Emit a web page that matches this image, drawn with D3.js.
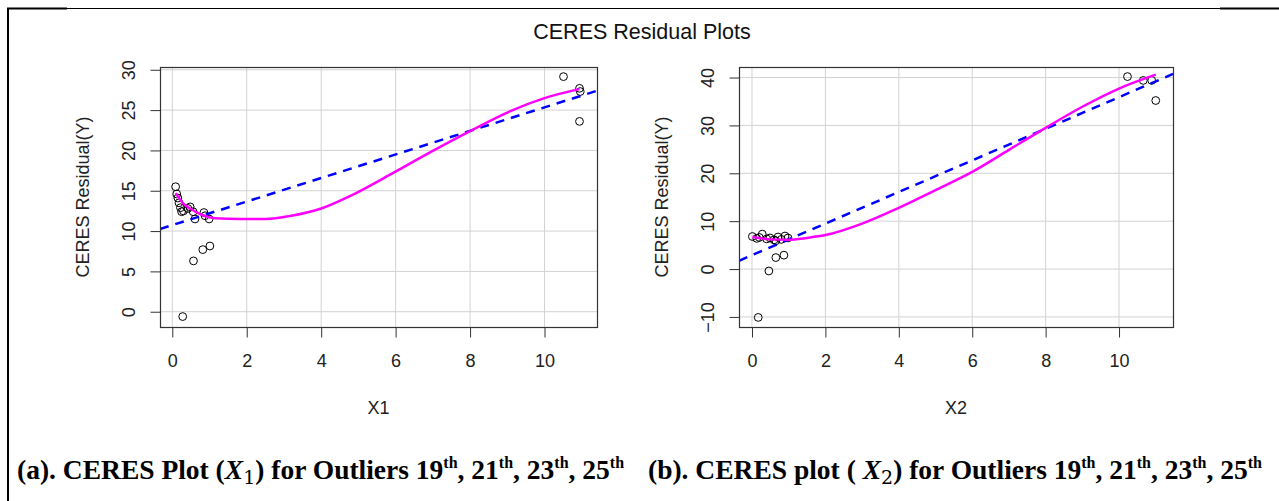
<!DOCTYPE html>
<html><head><meta charset="utf-8">
<script src="https://cdn.jsdelivr.net/npm/d3@7"></script>
<style>body{margin:0;background:#fff}svg{display:block}</style>
</head><body>
<script>
// ---- data ----
const title = "CERES Residual Plots";
const yLabel = "CERES Residual(Y)";
const xLabels = ["X1", "X2"];

// panel (a): X1
const x1Points = [0.09,0.12,0.15,0.18,0.22,0.25,0.30,0.42,0.48,0.56,0.61,0.85,0.88,0.99,0.57,0.82,1.01,0.28,10.51,10.94,10.96,10.94];
const y1Points = [15.5,14.6,14.1,13.5,12.9,12.4,12.5,12.8,13.0,12.4,11.5,12.3,11.9,11.5,6.3,7.7,8.15,-0.6,29.15,27.7,27.3,23.6];
const fit1 = [10.74, 1.46]; // intercept, slope (dashed blue)
const smooth1X = [0.09,0.3,0.48,0.75,1.15,1.8,2.5,3.2,4.0,4.8,5.85,6.9,8.0,9.1,10.15,10.94];
const smooth1Y = [14.7,13.4,12.8,12.1,11.6,11.5,11.5,11.9,12.8,14.4,17.0,19.7,22.4,24.9,26.7,27.6];
const xTicks1 = [0,2,4,6,8,10];
const yTicks1 = [0,5,10,15,20,25,30];

// panel (b): X2
const x2Points = [0.01,0.13,0.28,0.20,0.40,0.49,0.60,0.65,0.71,0.80,0.90,0.98,0.65,0.87,0.46,0.17,10.23,10.66,10.89,11.0];
const y2Points = [6.8,6.4,7.3,6.6,6.3,6.5,6.1,5.9,6.7,6.2,6.9,6.5,2.4,2.9,-0.4,-10.1,40.2,39.4,39.4,35.2];
const fit2 = [2.9, 3.3];
const smooth2X = [0.01,0.5,1.0,1.5,2.0,3.0,4.0,5.0,6.0,7.0,8.0,9.0,10.0,11.0];
const smooth2Y = [6.7,6.2,6.1,6.5,7.1,9.5,12.8,16.5,20.3,24.9,29.5,33.9,37.7,40.6];
const xTicks2 = [0,2,4,6,8,10];
const yTicks2 = [-10,0,10,20,30,40];

const captionA = ["(a). CERES Plot (", "X", "1", ") for Outliers "];
const captionB = ["(b). CERES plot ( ", "X", "2", ") for Outliers "];
const outliers = ["19", "21", "23", "25"];

// ---- drawing ----
const W = 1279, H = 501;
const svg = d3.select("body").append("svg").attr("width", W).attr("height", H);
const SANS = "Liberation Sans, Arial, sans-serif";

// frame lines
svg.append("line").attr("x1",7).attr("x2",W).attr("y1",8.5).attr("y2",8.5).attr("stroke","#000").attr("stroke-width",1);
svg.append("line").attr("x1",7).attr("x2",67).attr("y1",8.5).attr("y2",8.5).attr("stroke","#000").attr("stroke-width",2);
svg.append("line").attr("x1",1220).attr("x2",W).attr("y1",8.5).attr("y2",8.5).attr("stroke","#000").attr("stroke-width",2);
svg.append("line").attr("x1",8).attr("x2",8).attr("y1",8).attr("y2",H).attr("stroke","#000").attr("stroke-width",2);

svg.append("text").attr("x", 642).attr("y", 39).attr("text-anchor","middle")
  .attr("font-family",SANS).attr("font-size",21.5).attr("fill","#111").text(title);

const pTop = 67, pBottom = 327;

function panel(id, left, right, xDom, yDom, xs, ys, fit, sx, sy, xt, yt, xl) {
  const x = d3.scaleLinear().domain(xDom).range([left, right]);
  const y = d3.scaleLinear().domain(yDom).range([pBottom, pTop]);
  const g = svg.append("g");
  g.append("clipPath").attr("id", "clip" + id).append("rect")
    .attr("x", left).attr("y", pTop).attr("width", right - left).attr("height", pBottom - pTop);
  // grid
  g.selectAll(".vg").data(xt).join("line").attr("class","vg").attr("x1", d => x(d)).attr("x2", d => x(d))
    .attr("y1", pTop).attr("y2", pBottom).attr("stroke", "#d3d3d3").attr("stroke-width", 1);
  g.selectAll(".hg").data(yt).join("line").attr("class","hg").attr("y1", d => y(d)).attr("y2", d => y(d))
    .attr("x1", left).attr("x2", right).attr("stroke", "#d3d3d3").attr("stroke-width", 1);
  // points
  g.selectAll("circle").data(xs.map((v, i) => [v, ys[i]])).join("circle")
    .attr("cx", d => x(d[0])).attr("cy", d => y(d[1])).attr("r", 3.9)
    .attr("fill", "none").attr("stroke", "#000").attr("stroke-width", 1);
  // fit line
  const cg = g.append("g").attr("clip-path", `url(#clip${id})`);
  cg.append("line").attr("x1", x(xDom[0])).attr("y1", y(fit[0] + fit[1] * xDom[0]))
    .attr("x2", x(xDom[1])).attr("y2", y(fit[0] + fit[1] * xDom[1]))
    .attr("stroke", "#0000ff").attr("stroke-width", 2.5).attr("stroke-dasharray", "9,7");
  // smooth
  cg.append("path").datum(sx.map((v, i) => [v, sy[i]]))
    .attr("d", d3.line().x(d => x(d[0])).y(d => y(d[1])).curve(d3.curveMonotoneX))
    .attr("fill", "none").attr("stroke", "#ff00ff").attr("stroke-width", 2.5);
  // box
  g.append("rect").attr("x", left + 0.5).attr("y", pTop + 0.5).attr("width", right - left)
    .attr("height", pBottom - pTop).attr("fill", "none").attr("stroke", "#333").attr("stroke-width", 1.2);
  // axes
  const xa = g.append("g").attr("transform", `translate(0,${pBottom + 0.5})`)
    .call(d3.axisBottom(x).tickValues(xt).tickSize(10).tickPadding(17).tickFormat(d3.format("d")));
  const ya = g.append("g").attr("transform", `translate(${left + 0.5},0)`)
    .call(d3.axisLeft(y).tickValues(yt).tickSize(10).tickFormat(d3.format("d")));
  [xa, ya].forEach(a => {
    a.select(".domain").remove();
    a.selectAll("line").attr("stroke", "#333");
    a.selectAll("text").attr("font-family", SANS).attr("font-size", 18).attr("fill", "#222");
  });
  ya.selectAll("text").attr("transform", "rotate(-90)").attr("x", 0).attr("y", -26)
    .attr("dy", 0).attr("text-anchor", "middle");
  g.append("text").attr("x", (left + right) / 2).attr("y", 414).attr("text-anchor", "middle")
    .attr("font-family", SANS).attr("font-size", 18).attr("fill", "#222").text(xl);
  g.append("text").attr("transform", `translate(${left - 71.5},${(pTop + pBottom) / 2}) rotate(-90)`)
    .attr("text-anchor", "middle").attr("font-family", SANS)
    .attr("font-size", 18).attr("fill", "#222").text(yLabel);
}

panel("a", 160, 597, [-0.33, 11.41], [-1.894, 30.344], x1Points, y1Points, fit1, smooth1X, smooth1Y, xTicks1, yTicks1, xLabels[0]);
panel("b", 739, 1173, [-0.354, 11.47], [-12.1, 42.2], x2Points, y2Points, fit2, smooth2X, smooth2Y, xTicks2, yTicks2, xLabels[1]);

function caption(x0, parts) {
  const fs = 27.5;
  const segs = [
    {t: parts[0], off: 0},
    {t: parts[1], off: 0, italic: true},
    {t: parts[2], off: 5, size: 19, sans: true},
    {t: parts[3], off: 0}
  ];
  outliers.forEach((o, i) => {
    segs.push({t: (i ? ", " : "") + o, off: 0});
    segs.push({t: "th", off: -11, size: 16});
  });
  const t = svg.append("text").attr("x", x0).attr("y", 479)
    .attr("font-family", "Liberation Serif, Times New Roman, serif").attr("font-weight", "bold")
    .attr("font-size", fs).attr("fill", "#000");
  let cur = 0;
  segs.forEach(s => {
    const sp = t.append("tspan").attr("dy", s.off - cur).text(s.t);
    cur = s.off;
    if (s.size) sp.attr("font-size", s.size);
    if (s.italic) sp.attr("font-style", "italic");
    if (s.sans) sp.attr("font-family", "DejaVu Serif, serif").attr("font-weight", "normal");
  });
}
caption(17, captionA);
caption(648, captionB);
</script>
</body></html>
